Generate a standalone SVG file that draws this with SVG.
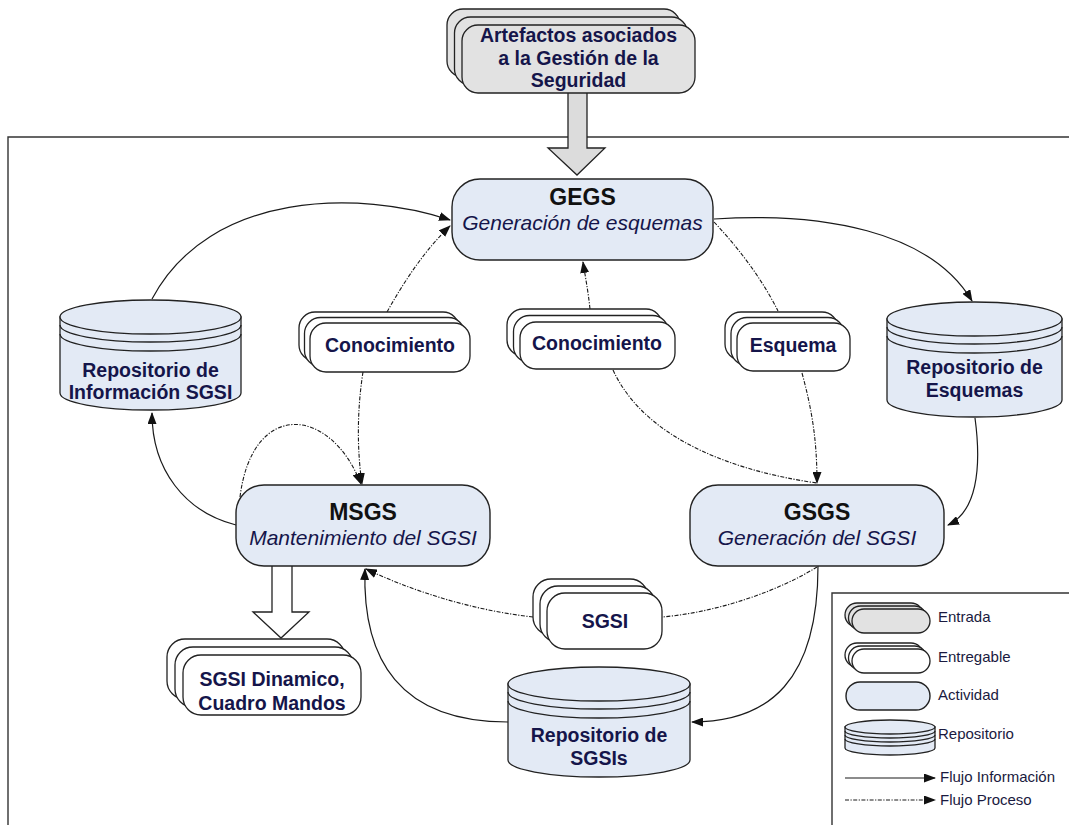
<svg xmlns="http://www.w3.org/2000/svg" width="1069" height="825" viewBox="0 0 1069 825">
  <defs>
    <marker id="arrow" markerUnits="userSpaceOnUse" markerWidth="12" markerHeight="9" refX="11" refY="4.5" orient="auto">
      <path d="M0,0 L12,4.5 L0,9 z" fill="#111"/>
    </marker>
  </defs>
  <style>
    .frame{fill:none;stroke:#333;stroke-width:1.4}
    .act{fill:#e3eaf5;stroke:#222;stroke-width:1.4}
    .repo{fill:#e3eaf5;stroke:#222;stroke-width:1.3}
    .ring{fill:none;stroke:#222;stroke-width:1.3}
    .deliv{fill:#fff;stroke:#222;stroke-width:1.3}
    .input{fill:#e2e2e2;stroke:#222;stroke-width:1.3}
    .block-in{fill:#dcdcdc;stroke:#222;stroke-width:1.3}
    .block-out{fill:#fff;stroke:#222;stroke-width:1.3}
    .info{fill:none;stroke:#1a1a1a;stroke-width:1.2}
    .proc{fill:none;stroke:#1a1a1a;stroke-width:1.1;stroke-dasharray:4 1.5 1.2 1.5}
    text{font-family:"Liberation Sans",Arial,sans-serif}
    .lbl{font-size:19.5px;font-weight:bold;fill:#15154a;text-anchor:middle}
    .ttl{font-size:23px;font-weight:bold;fill:#111;text-anchor:middle}
    .sub{font-size:21px;font-style:italic;fill:#15154a;text-anchor:middle}
    .leg{font-size:15px;fill:#1a1a40}
  </style>

  <!-- outer frame (open to the right and bottom) -->
  <path class="frame" d="M1069,137 H8 V825"/>

  <!-- input block arrow into GEGS -->
  <g id="arrow-input">
    <path class="block-in" d="M568,93 V148 H548 L577,175 L605,148 H587 V93"/>
  </g>

  <!-- input artefacts -->
  <g id="artefactos">
    <rect class="input" x="447" y="9" width="233" height="68" rx="16"/>
    <rect class="input" x="454.5" y="17" width="233" height="68" rx="16"/>
    <rect class="input" x="462" y="25" width="233" height="68" rx="16"/>
    <text class="lbl" x="578.5" y="42">Artefactos asociados</text>
    <text class="lbl" x="578.5" y="65">a la Gestión de la</text>
    <text class="lbl" x="578.5" y="87">Seguridad</text>
  </g>

  <!-- connectors -->
  <g id="connectors">
    <!-- information flow -->
    <path class="info" d="M152,299 C210,190 360,190 450,220" marker-end="url(#arrow)"/>
    <path class="info" d="M714,219 C820,212 930,230 972,301" marker-end="url(#arrow)"/>
    <path class="info" d="M975,418 C982,470 976,512 948,525" marker-end="url(#arrow)"/>
    <path class="info" d="M818,566 C818,680 770,722 692,722" marker-end="url(#arrow)"/>
    <path class="info" d="M508,722 C400,722 362,660 365,569" marker-end="url(#arrow)"/>
    <path class="info" d="M236,525 C185,512 152,470 152,413" marker-end="url(#arrow)"/>
    <!-- process flow -->
    <path class="proc" d="M387,312 C405,280 425,250 450,226" marker-end="url(#arrow)"/>
    <path class="proc" d="M363,372 C357,410 357,450 362,484" marker-end="url(#arrow)"/>
    <path class="proc" d="M240,497 C252,400 330,405 361,484" marker-end="url(#arrow)"/>
    <path class="proc" d="M714,222 C745,255 765,285 778,311"/>
    <path class="proc" d="M802,373 C812,410 817,440 817,483" marker-end="url(#arrow)"/>
    <path class="proc" d="M590,309 C588,290 585,275 583,262" marker-end="url(#arrow)"/>
    <path class="proc" d="M613,370 C650,450 760,475 817,483"/>
    <path class="proc" d="M817,567 C780,590 720,612 662,617"/>
    <path class="proc" d="M533,617 C470,610 410,590 366,569" marker-end="url(#arrow)"/>
  </g>

  <!-- output block arrow from MSGS -->
  <g id="arrow-output">
    <path class="block-out" d="M272,566 V612 H253 L281,638 L309,612 H292 V566"/>
  </g>

  <!-- activities -->
  <g id="gegs">
    <rect class="act" x="452" y="179" width="261" height="81" rx="28"/>
    <text class="ttl" x="582.5" y="205">GEGS</text>
    <text class="sub" x="582.5" y="230">Generación de esquemas</text>
  </g>
  <g id="msgs">
    <rect class="act" x="236" y="485" width="254" height="81" rx="28"/>
    <text class="ttl" x="363" y="520">MSGS</text>
    <text class="sub" x="363" y="545">Mantenimiento del SGSI</text>
  </g>
  <g id="gsgs">
    <rect class="act" x="690" y="485" width="254" height="81" rx="28"/>
    <text class="ttl" x="817" y="520">GSGS</text>
    <text class="sub" x="817" y="545">Generación del SGSI</text>
  </g>

  <!-- repositories -->
  <g id="repo-info">
    <path class="repo" d="M60,317 V393 A90.5,17 0 0 0 241,393 V317 z"/>
    <ellipse class="repo" cx="150.5" cy="317" rx="90.5" ry="17"/>
    <path class="ring" d="M60,325 A90.5,17 0 0 0 241,325 M60,334 A90.5,17 0 0 0 241,334"/>
    <text class="lbl" x="150.5" y="377">Repositorio de</text>
    <text class="lbl" x="150.5" y="399">Información SGSI</text>
  </g>
  <g id="repo-esquemas">
    <path class="repo" d="M887,319 V400 A87.5,17 0 0 0 1062,400 V319 z"/>
    <ellipse class="repo" cx="974.5" cy="319" rx="87.5" ry="17"/>
    <path class="ring" d="M887,327 A87.5,17 0 0 0 1062,327 M887,336 A87.5,17 0 0 0 1062,336"/>
    <text class="lbl" x="974.5" y="374">Repositorio de</text>
    <text class="lbl" x="974.5" y="397">Esquemas</text>
  </g>
  <g id="repo-sgsis">
    <path class="repo" d="M508,684 V760 A91,17 0 0 0 690,760 V684 z"/>
    <ellipse class="repo" cx="599" cy="684" rx="91" ry="17"/>
    <path class="ring" d="M508,692 A91,17 0 0 0 690,692 M508,701 A91,17 0 0 0 690,701"/>
    <text class="lbl" x="599" y="742">Repositorio de</text>
    <text class="lbl" x="599" y="765">SGSIs</text>
  </g>

  <!-- deliverables -->
  <g id="conocimiento-1">
    <rect class="deliv" x="299" y="312" width="160" height="49" rx="16"/>
    <rect class="deliv" x="304.5" y="317.5" width="160" height="49" rx="16"/>
    <rect class="deliv" x="310" y="323" width="160" height="49" rx="16"/>
    <text class="lbl" x="390" y="352">Conocimiento</text>
  </g>
  <g id="conocimiento-2">
    <rect class="deliv" x="507" y="309" width="155" height="47" rx="16"/>
    <rect class="deliv" x="513.5" y="315.5" width="155" height="47" rx="16"/>
    <rect class="deliv" x="520" y="322" width="155" height="47" rx="16"/>
    <text class="lbl" x="597" y="350">Conocimiento</text>
  </g>
  <g id="esquema">
    <rect class="deliv" x="725" y="312" width="113" height="48" rx="16"/>
    <rect class="deliv" x="731" y="317.5" width="113" height="48" rx="16"/>
    <rect class="deliv" x="737" y="323" width="113" height="48" rx="16"/>
    <text class="lbl" x="793" y="352">Esquema</text>
  </g>
  <g id="sgsi">
    <rect class="deliv" x="533" y="579" width="115" height="56" rx="18"/>
    <rect class="deliv" x="540" y="586" width="115" height="56" rx="18"/>
    <rect class="deliv" x="547" y="593" width="115" height="56" rx="18"/>
    <text class="lbl" x="605" y="628">SGSI</text>
  </g>
  <g id="sgsi-dinamico">
    <rect class="deliv" x="167" y="639" width="178" height="60" rx="18"/>
    <rect class="deliv" x="175" y="647" width="178" height="60" rx="18"/>
    <rect class="deliv" x="183" y="655" width="178" height="60" rx="18"/>
    <text class="lbl" x="272" y="686">SGSI Dinamico,</text>
    <text class="lbl" x="272" y="710">Cuadro Mandos</text>
  </g>

  <!-- legend -->
  <g id="legend">
    <path class="frame" d="M1069,593 H832 V825"/>
    <rect class="input" x="845" y="603" width="78" height="24" rx="12"/>
    <rect class="input" x="848.5" y="606" width="78" height="24" rx="12"/>
    <rect class="input" x="852" y="609" width="78" height="24" rx="12"/>
    <text class="leg" x="938" y="622">Entrada</text>
    <rect class="deliv" x="845" y="643" width="78" height="24" rx="12"/>
    <rect class="deliv" x="848.5" y="646" width="78" height="24" rx="12"/>
    <rect class="deliv" x="852" y="649" width="78" height="24" rx="12"/>
    <text class="leg" x="938" y="662">Entregable</text>
    <rect class="act" x="846" y="682" width="84" height="28" rx="14"/>
    <text class="leg" x="938" y="700">Actividad</text>
    <path class="repo" d="M845,727 V748 A45,7 0 0 0 935,748 V727 z"/>
    <ellipse class="repo" cx="890" cy="727" rx="45" ry="7"/>
    <path class="ring" d="M845,731 A45,7 0 0 0 935,731 M845,735 A45,7 0 0 0 935,735 M845,739 A45,7 0 0 0 935,739"/>
    <text class="leg" x="938" y="739">Repositorio</text>
    <path class="info" d="M845,778 H935" marker-end="url(#arrow)"/>
    <text class="leg" x="940" y="782">Flujo Información</text>
    <path class="proc" d="M845,800 H935" marker-end="url(#arrow)"/>
    <text class="leg" x="940" y="805">Flujo Proceso</text>
  </g>
</svg>
